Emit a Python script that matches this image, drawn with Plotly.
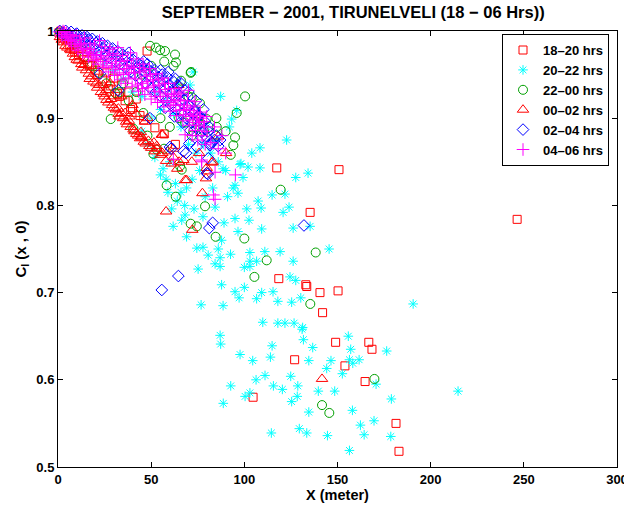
import plotly.graph_objects as go

# ---------------- data ----------------
sq_x = [0.5, 1.5, 2.2, 3.5, 4.1, 5.5, 6.3, 7.5, 8.5, 10,
        11, 12.5, 14, 15.5, 17, 18.5, 20, 22, 24, 26,
        28, 30, 32, 34, 36, 38, 40, 42, 44, 47.8,
        150.8, 246.4, 117.4, 135.3, 118.5, 133, 140.6, 150.3, 142, 149,
        166.8, 168.5, 127, 154, 164.8, 104.7, 181.4, 183, 133.5,
        9, 16, 21, 27, 33, 39, 46, 52, 57, 63]
sq_y = [0.998, 1.0, 0.993, 0.997, 0.99, 0.994, 0.984, 0.991, 0.979, 0.986,
        0.973, 0.98, 0.967, 0.976, 0.96, 0.97, 0.955, 0.963, 0.945, 0.952,
        0.937, 0.946, 0.928, 0.938, 0.92, 0.93, 0.912, 0.922, 0.903, 0.977,
        0.841, 0.784, 0.843, 0.792, 0.716, 0.709, 0.700, 0.702, 0.677, 0.643,
        0.643, 0.635, 0.623, 0.616, 0.598, 0.58, 0.55, 0.518, 0.707,
        0.976, 0.962, 0.95, 0.934, 0.925, 0.91, 0.898, 0.889, 0.882, 0.87]

st_x = [72.5, 87.3, 64.4, 70.9, 93.2, 95.9, 98.2, 121.8, 56.4, 61,
        73, 68.2, 66.4, 77.8, 61.8, 69, 74.5, 77.8, 80.6, 75.2,
        76.8, 84.3, 89.1, 95, 102.5, 96.6, 87.8, 86, 92.6, 87,
        84.3, 87, 87.8, 88.6, 88.6, 95, 96.6, 97.7, 102, 108.4,
        122.7, 108.4, 104, 134.2, 127.6, 99.3, 114.9, 107.4, 101.3, 109,
        124, 120.8, 109.3, 126.2, 135.3, 103, 111, 119.2, 103, 106.6,
        126.2, 100, 103, 124.5, 127.6, 100, 109.3, 115.4, 95, 97.2,
        106.6, 118, 125.4, 130.3, 109.9, 118, 121.8, 126.7, 131.3, 145.5,
        190.6, 131, 87, 87.3, 131.7, 114.9, 155.8, 136.7, 157.1, 176.4,
        97.7, 104.5, 114, 134.6, 146.5, 156.4, 161.6, 158.2, 144.2, 111.1,
        124.9, 152.6, 106.3, 92.7, 115.6, 120.4, 128.7, 139.7, 148.5, 170.7,
        103, 100.4, 128.4, 125.4, 88.7, 178.9, 134.6, 158, 162.3, 169.6,
        129.5, 133.5, 114.5, 144.6, 164.3, 178.6, 156.4, 214.7, 60, 55,
        58, 63, 66, 69, 52, 48, 45, 50, 55, 58,
        62, 66, 70, 74, 78, 82, 86, 90, 92, 94,
        40, 35, 30, 25, 20, 15, 10, 5, 45, 52,
        80, 85, 76, 72, 68, 64, 59, 83, 91, 79]
st_y = [0.953, 0.925, 0.94, 0.938, 0.899, 0.909, 0.848, 0.813, 0.842, 0.796,
        0.796, 0.789, 0.783, 0.787, 0.776, 0.764, 0.751, 0.752, 0.743, 0.727,
        0.686, 0.798, 0.78, 0.785, 0.783, 0.77, 0.76, 0.75, 0.744, 0.74,
        0.733, 0.73, 0.709, 0.685, 0.842, 0.823, 0.814, 0.847, 0.844, 0.843,
        0.875, 0.866, 0.86, 0.837, 0.832, 0.832, 0.812, 0.805, 0.796, 0.797,
        0.798, 0.792, 0.773, 0.774, 0.776, 0.746, 0.747, 0.747, 0.736, 0.736,
        0.736, 0.729, 0.73, 0.718, 0.714, 0.706, 0.7, 0.701, 0.701, 0.694,
        0.693, 0.69, 0.689, 0.694, 0.666, 0.665, 0.665, 0.665, 0.66, 0.75,
        0.687, 0.658, 0.651, 0.641, 0.646, 0.639, 0.65, 0.637, 0.635, 0.633,
        0.629, 0.622, 0.626, 0.622, 0.622, 0.623, 0.623, 0.619, 0.613, 0.605,
        0.604, 0.607, 0.6, 0.593, 0.593, 0.589, 0.593, 0.587, 0.587, 0.595,
        0.585, 0.581, 0.581, 0.575, 0.573, 0.578, 0.563, 0.565, 0.548, 0.553,
        0.544, 0.539, 0.539, 0.536, 0.537, 0.535, 0.519, 0.587, 0.85, 0.835,
        0.83, 0.825, 0.815, 0.82, 0.855, 0.87, 0.885, 0.9, 0.91, 0.92,
        0.905, 0.89, 0.87, 0.86, 0.87, 0.86, 0.85, 0.84, 0.89, 0.82,
        0.93, 0.945, 0.955, 0.965, 0.975, 0.985, 0.99, 0.995, 0.925, 0.93,
        0.89, 0.875, 0.84, 0.83, 0.8, 0.805, 0.815, 0.82, 0.81, 0.81]

ci_x = [49.4, 52.6, 54.8, 57.4, 62.8, 57, 63.3, 71.4, 66, 28.3,
        71.2, 76.2, 71.8, 79.8, 85.2, 95, 95.9, 40.4, 45.8, 30.6,
        68.2, 72.6, 74.8, 53, 51.2, 65.5, 58.3, 63.2, 94.1, 92.7,
        78.4, 71.8, 56.9, 66.4, 119.5, 78.9, 71.2, 74.5, 84.6, 100,
        112, 105.4, 138.3, 135.4, 169.8, 141.7, 145.6, 100.4, 1, 3,
        6, 10, 14, 18, 22, 26, 33, 38, 42, 50,
        60, 65, 55, 85, 90, 48, 35, 45, 62, 70]
ci_y = [0.983, 0.981, 0.978, 0.977, 0.973, 0.965, 0.964, 0.953, 0.943, 0.899,
        0.952, 0.917, 0.924, 0.899, 0.89, 0.878, 0.906, 0.888, 0.906, 0.929,
        0.895, 0.885, 0.896, 0.864, 0.859, 0.845, 0.823, 0.81, 0.869, 0.858,
        0.885, 0.88, 0.865, 0.841, 0.818, 0.799, 0.779, 0.776, 0.764, 0.762,
        0.737, 0.718, 0.746, 0.687, 0.601, 0.571, 0.562, 0.925, 0.998, 0.994,
        0.99, 0.985, 0.97, 0.96, 0.952, 0.94, 0.93, 0.92, 0.93, 0.96,
        0.89, 0.9, 0.9, 0.9, 0.885, 0.88, 0.94, 0.95, 0.96, 0.925]

tr_x = [1, 3, 5, 7, 9, 11, 13, 15, 17, 19,
        21, 23, 25, 27, 29, 31, 33, 35, 37, 39,
        41, 43, 45, 47, 49, 52, 55, 58, 61, 64,
        24.3, 32.4, 38.3, 46.7, 44, 51.5, 53, 55.7, 36, 64.6,
        61.9, 67.3, 68.2, 77.5, 79.8, 86, 90.2, 83, 44.6, 56.2,
        75.7, 71.8, 82.5, 80.2, 79.4, 69, 58, 72.1, 141.7, 20,
        28, 34, 40, 48, 12, 6, 16, 30, 26, 42,
        2, 4, 6.5, 8, 10, 12.5, 14, 16.5, 18, 20.5,
        22, 24.5, 26, 28.5, 30, 32.5, 34, 36.5, 38, 40.5,
        42, 44.5, 46, 48.5, 50, 53, 56, 59, 62, 65]
tr_y = [0.993, 0.987, 0.981, 0.978, 0.97, 0.966, 0.958, 0.955, 0.945, 0.942,
        0.935, 0.93, 0.925, 0.918, 0.915, 0.91, 0.902, 0.9, 0.893, 0.89,
        0.885, 0.88, 0.878, 0.871, 0.868, 0.862, 0.858, 0.851, 0.848, 0.842,
        0.938, 0.911, 0.902, 0.896, 0.877, 0.872, 0.865, 0.881, 0.906, 0.938,
        0.865, 0.852, 0.829, 0.814, 0.843, 0.879, 0.86, 0.85, 0.879, 0.881,
        0.86, 0.85, 0.849, 0.839, 0.831, 0.829, 0.793, 0.772, 0.601, 0.96,
        0.94, 0.925, 0.915, 0.9, 0.98, 0.99, 0.968, 0.925, 0.932, 0.905,
        0.99, 0.983, 0.979, 0.974, 0.967, 0.962, 0.961, 0.951, 0.948, 0.94,
        0.938, 0.928, 0.921, 0.922, 0.912, 0.905, 0.906, 0.896, 0.897, 0.887,
        0.882, 0.884, 0.873, 0.874, 0.866, 0.868, 0.86, 0.862, 0.855, 0.85]

di_x = [1, 2.5, 4.2, 5.5, 7, 8.6, 10.1, 11.4, 12.9, 14.3,
        15.6, 17, 18.4, 19.8, 21.1, 22.5, 23.8, 25.2, 26.6, 27.9,
        29.3, 30.7, 32, 33.4, 34.8, 36.1, 37.5, 38.9, 40.2, 41.6,
        43, 44.3, 45.7, 47.1, 48.4, 49.8, 51.2, 52.5, 53.9, 55.3,
        56.6, 58, 59.4, 60.7, 62.1, 63.5, 64.8, 66.2, 67.6, 68.9,
        70.3, 71.7, 73, 74.4, 75.8, 77.1, 78.5, 79.9, 81.2, 82.6,
        22.5, 32.4, 49.4, 59.2, 73.5, 74.8, 81.6, 79.8, 60.1, 67.3,
        70.5, 75.8, 80.7, 80.4, 81.6, 74.5, 68.7, 60.7, 83, 81.2,
        132, 64.6, 55.7, 85, 87, 63, 55, 46, 38, 66,
        3, 6.2, 9.4, 13.6, 16.3, 20.5, 24.5, 28.3, 31.4, 35.5,
        39.6, 42.4, 46.4, 50.5, 54.6, 57.3, 61.4, 65.5, 69.6, 72.4,
        76.5, 80.6, 84, 44.7, 52, 58.7, 64.2, 70, 74, 78,
        48, 56, 62, 68, 86, 77, 71, 67, 62.5, 57.5]
di_y = [1.0, 0.998, 1.0, 0.996, 0.999, 0.993, 0.997, 0.99, 0.995, 0.987,
        0.993, 0.984, 0.991, 0.98, 0.988, 0.977, 0.986, 0.972, 0.983, 0.969,
        0.98, 0.965, 0.977, 0.962, 0.973, 0.958, 0.97, 0.953, 0.967, 0.949,
        0.963, 0.945, 0.959, 0.94, 0.956, 0.934, 0.952, 0.93, 0.947, 0.925,
        0.943, 0.92, 0.938, 0.915, 0.933, 0.91, 0.927, 0.905, 0.921, 0.9,
        0.915, 0.895, 0.91, 0.889, 0.903, 0.884, 0.897, 0.878, 0.89, 0.872,
        0.951, 0.932, 0.9, 0.953, 0.907, 0.902, 0.871, 0.837, 0.867, 0.862,
        0.871, 0.903, 0.854, 0.836, 0.869, 0.867, 0.86, 0.865, 0.78, 0.774,
        0.777, 0.719, 0.703, 0.88, 0.875, 0.945, 0.955, 0.965, 0.975, 0.94,
        0.997, 0.994, 0.996, 0.992, 0.99, 0.986, 0.98, 0.976, 0.972, 0.967,
        0.962, 0.958, 0.953, 0.947, 0.94, 0.935, 0.928, 0.92, 0.912, 0.905,
        0.895, 0.885, 0.875, 0.96, 0.955, 0.947, 0.938, 0.93, 0.92, 0.91,
        0.962, 0.95, 0.942, 0.932, 0.868, 0.878, 0.886, 0.895, 0.902, 0.912]

pl_x = [0.5, 1.8, 2.7, 3.9, 4.6, 5.8, 6.4, 7.3, 8.1, 9.2,
        9.8, 10.7, 11.5, 12.6, 13.3, 14.2, 15.1, 16.4, 17.2, 18.1,
        18.9, 19.6, 20.8, 21.5, 22.3, 23.4, 24.2, 25.1, 26.3, 27.0,
        27.8, 28.6, 29.5, 30.3, 31.2, 32.1, 32.9, 33.8, 34.6, 35.5,
        36.4, 37.2, 38.1, 38.9, 39.8, 40.6, 41.5, 42.3, 43.2, 44.0,
        44.9, 45.7, 46.6, 47.4, 48.3, 49.1, 50.0, 50.8, 51.7, 52.5,
        53.4, 54.2, 55.1, 55.9, 56.8, 57.6, 58.5, 59.3, 60.2, 61.0,
        61.9, 62.7, 63.6, 64.4, 65.3, 66.1, 67.0, 67.8, 68.7, 69.5,
        70.4, 71.2, 72.1, 73.0, 73.8, 74.7, 75.5, 76.4, 77.3, 78.1,
        70, 73.5, 79.8, 77.1, 83.4, 84.3, 95.2, 84.3, 61.9, 68.2,
        77.1, 80, 82, 86, 90, 88, 84, 79, 75, 72,
        2, 3.5, 5.2, 6.9, 8.7, 10.2, 11.9, 13.8, 15.7, 16.9,
        19.2, 20.4, 22.9, 24.6, 25.8, 27.3, 29.1, 30.8, 31.7, 33.3,
        35.1, 36.8, 37.7, 39.4, 41.1, 42.7, 43.7, 45.3, 46.2, 47.9,
        49.6, 51.3, 52.1, 53.8, 54.7, 56.4, 57.2, 58.9, 60.6, 62.3,
        63.2, 64.9, 65.7, 67.4, 69.1, 70.8, 72.6, 74.3, 76, 78.6]
pl_y = [0.999, 0.996, 1.0, 0.992, 0.998, 0.989, 0.996, 0.985, 0.994, 0.982,
        0.995, 0.978, 0.99, 0.984, 0.974, 0.992, 0.979, 0.97, 0.986, 0.975,
        0.966, 0.984, 0.972, 0.962, 0.989, 0.976, 0.958, 0.982, 0.968, 0.953,
        0.979, 0.963, 0.974, 0.949, 0.968, 0.981, 0.956, 0.944, 0.972, 0.961,
        0.94, 0.966, 0.952, 0.975, 0.936, 0.958, 0.945, 0.968, 0.931, 0.953,
        0.94, 0.962, 0.927, 0.948, 0.935, 0.957, 0.922, 0.944, 0.931, 0.951,
        0.918, 0.938, 0.925, 0.946, 0.913, 0.933, 0.92, 0.94, 0.908, 0.927,
        0.915, 0.934, 0.903, 0.921, 0.909, 0.928, 0.897, 0.915, 0.904, 0.92,
        0.892, 0.909, 0.898, 0.914, 0.886, 0.903, 0.892, 0.907, 0.88, 0.896,
        0.932, 0.919, 0.902, 0.852, 0.812, 0.838, 0.835, 0.807, 0.853, 0.881,
        0.85, 0.885, 0.872, 0.865, 0.86, 0.88, 0.89, 0.87, 0.875, 0.88,
        0.994, 0.999, 0.993, 0.99, 0.988, 0.985, 0.986, 0.98, 0.976, 0.979,
        0.973, 0.968, 0.97, 0.965, 0.96, 0.972, 0.958, 0.96, 0.952, 0.965,
        0.95, 0.957, 0.946, 0.96, 0.952, 0.938, 0.958, 0.934, 0.955, 0.942,
        0.95, 0.937, 0.925, 0.944, 0.93, 0.92, 0.94, 0.928, 0.918, 0.925,
        0.915, 0.93, 0.92, 0.91, 0.912, 0.902, 0.905, 0.895, 0.9, 0.89]

names = ["18\u201320 hrs", "20\u201322 hrs", "22\u201300 hrs",
         "00\u201302 hrs", "02\u201304 hrs", "04\u201306 hrs"]
x_ticks = [0, 50, 100, 150, 200, 250, 300]
y_ticks = [0.5, 0.6, 0.7, 0.8, 0.9, 1.0]
y_tick_text = ["0.5", "0.6", "0.7", "0.8", "0.9", "1"]

# ---------------- figure ----------------
FONT = "Liberation Sans"
series = [
    (sq_x, sq_y, "square-open", "#FF0000", 8),
    (st_x, st_y, "asterisk-open", "#00FFFF", 8),
    (ci_x, ci_y, "circle-open", "#00A000", 9),
    (tr_x, tr_y, "triangle-up-open", "#FF0000", 10),
    (di_x, di_y, "diamond-open", "#0000FF", 9),
    (pl_x, pl_y, "cross-thin-open", "#FF00FF", 9),
]

fig = go.Figure()
for (xs, ys, sym, col, sz), nm in zip(series, names):
    fig.add_trace(go.Scatter(
        x=xs, y=ys, mode="markers", name=nm, cliponaxis=False,
        marker=dict(symbol=sym, size=sz, color=col,
                    line=dict(color=col, width=1)),
    ))

fig.update_layout(
    width=624, height=508,
    paper_bgcolor="white", plot_bgcolor="white",
    margin=dict(l=58, r=7, t=31, b=41),
    font=dict(family=FONT, color="black", size=12),
    title=dict(text="<b>SEPTEMBER \u2212 2001, TIRUNELVELI (18 \u2212 06 Hrs))</b>",
               x=0.566, xanchor="center", y=0.976, yanchor="middle",
               font=dict(family=FONT, size=16.5, color="black")),
    legend=dict(x=0.9857, xanchor="right", y=0.993, yanchor="top",
                bgcolor="white", bordercolor="black", borderwidth=1,
                font=dict(family=FONT, size=13, color="black", weight="bold"),
                tracegroupgap=0, itemwidth=30),
    showlegend=True,
)
fig.update_xaxes(range=[0, 300], tickvals=x_ticks, ticks="inside", ticklen=5,
                 tickcolor="black", showline=True, linecolor="black", linewidth=1,
                 mirror="ticks", showgrid=False, zeroline=False, automargin=False,
                 ticklabeloverflow="allow",
                 tickfont=dict(family=FONT, size=13, color="black", weight="bold"),
                 title=dict(text="<b>X (meter)</b>", standoff=3,
                            font=dict(family=FONT, size=14.5, color="black")))
fig.update_yaxes(range=[0.5, 1.0], tickvals=y_ticks, ticktext=y_tick_text,
                 ticks="inside", ticklen=5, tickcolor="black", showline=True,
                 linecolor="black", linewidth=1, mirror="ticks", showgrid=False,
                 zeroline=False, automargin=False,
                 tickfont=dict(family=FONT, size=13, color="black", weight="bold"),
                 title=dict(text="<b>C<sub>I</sub> (x , 0)</b>", standoff=6,
                            font=dict(family=FONT, size=15, color="black")))

fig.write_html("out.html", config={"displayModeBar": False},
               post_script="document.body.style.margin='0';")
